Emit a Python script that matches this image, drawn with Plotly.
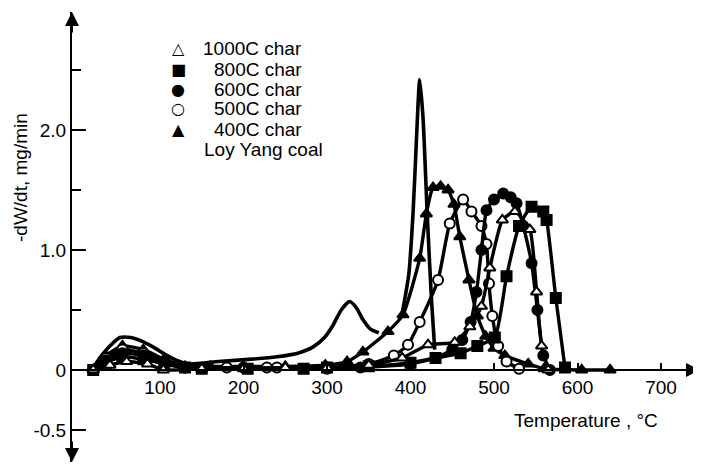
import plotly.graph_objects as go

# ---------------- data ----------------
coal_T = [20, 30, 40, 52, 65, 78, 92, 106, 120, 135, 170, 210, 240, 265, 283, 297, 307, 317, 327, 335, 343, 352, 362,
          None, 390, 398, 403, 407, 411, 415, 420, 425, 429]
coal_y = [0.02, 0.12, 0.20, 0.27, 0.27, 0.24, 0.19, 0.13, 0.08, 0.05, 0.07, 0.09, 0.11, 0.14, 0.19, 0.27, 0.37, 0.50, 0.57,
          0.52, 0.42, 0.34, 0.31, None, 0.47, 0.80, 1.30, 1.90, 2.42, 2.10, 1.30, 0.60, 0.17]

c400_T = [20, 35, 55, 80, 105, 130, 160, 200, 250, 298, 324, 343, 373, 391, 411, 419, 427, 436, 445, 452, 459, 470, 480,
          490, 500, 513, 541, 560, 605, 639]
c400_y = [0.0, 0.12, 0.20, 0.17, 0.09, 0.03, 0.03, 0.03, 0.03, 0.04, 0.07, 0.15, 0.32, 0.46, 0.93, 1.30, 1.52, 1.53,
          1.50, 1.38, 1.11, 0.75, 0.45, 0.28, 0.18, 0.12, 0.05, 0.01, 0.0, 0.0]

c500_T = [20, 35, 55, 80, 105, 130, 180, 228, 240, 300, 350, 380, 397, 411, 433, 447, 463, 473, 485, 491, 494, 498, 505,
          515, 530]
c500_y = [0.0, 0.10, 0.17, 0.14, 0.07, 0.02, 0.02, 0.02, 0.02, 0.02, 0.05, 0.12, 0.21, 0.40, 0.75, 1.22, 1.42, 1.32,
          1.20, 1.05, 0.72, 0.45, 0.20, 0.07, 0.01]

c600_T = [20, 35, 55, 80, 105, 130, 200, 300, 340, 400, 430, 450, 462, 472, 479, 485, 491, 500, 511, 520, 527, 535, 545,
          552, 559, 567]
c600_y = [0.0, 0.08, 0.14, 0.12, 0.06, 0.02, 0.02, 0.01, 0.02, 0.05, 0.10, 0.17, 0.25, 0.40, 0.65, 1.00, 1.33, 1.42,
          1.47, 1.44, 1.39, 1.20, 0.89, 0.50, 0.12, 0.0]

c800_T = [20, 35, 55, 80, 105, 130, 150, 205, 272, 300, 350, 400, 430, 460, 480, 501, 515, 530, 545, 559, 563, 574, 585]
c800_y = [0.0, 0.06, 0.11, 0.09, 0.05, 0.02, 0.01, 0.01, 0.01, 0.02, 0.03, 0.06, 0.10, 0.14, 0.20, 0.27, 0.78, 1.20,
          1.36, 1.32, 1.25, 0.60, 0.02]

c1000_T = [20, 40, 60, 85, 104, 150, 200, 250, 300, 350, 390, 421, 453, 471, 485, 495, 510, 525, 543, 551, 557, 565]
c1000_y = [0.0, 0.04, 0.07, 0.05, 0.0, 0.01, 0.01, 0.02, 0.02, 0.04, 0.10, 0.21, 0.23, 0.36, 0.53, 0.85, 1.25, 1.32,
           1.17, 0.65, 0.20, 0.0]

legend_names = ["1000C char", "800C char", "600C char", "500C char", "400C char", "Loy Yang coal"]
legend_glyphs = ["\u25B3", "\u25A0", "\u25CF", "\u25CB", "\u25B2", ""]

x_ticks = [100, 200, 300, 400, 500, 600, 700]
y_ticks = [-0.5, 0, 1.0, 2.0]
y_tick_text = ["-0.5", "0", "1.0", "2.0"]
y_minor = [0.5, 1.5, 2.5]

# ---------------- figure ----------------
OFF = 8                       # page body margin offset
W, H = 701 - OFF, 470 - OFF
ML, MR, MT, MB = 72 - OFF, 1, 12 - OFF, 8
XMIN, XMAX = -5.4, 746.7
YMIN, YMAX = -0.767, 2.983
FONT = "Liberation Sans"
FS = 19

def px2paper(px, py):
    # px, py are absolute window pixels
    px -= OFF
    py -= OFF
    return (px - ML) / (W - ML - MR), 1 - (py - MT) / (H - MT - MB)

fig = go.Figure()

fig.add_trace(go.Scatter(x=coal_T, y=coal_y, mode="lines", name=legend_names[5],
                         line=dict(color="black", width=3.6, shape="spline", smoothing=0.6),
                         connectgaps=False))

series = [
    (c400_T, c400_y, legend_names[4], "triangle-up", "black"),
    (c500_T, c500_y, legend_names[3], "circle", "white"),
    (c600_T, c600_y, legend_names[2], "circle", "black"),
    (c800_T, c800_y, legend_names[1], "square", "black"),
    (c1000_T, c1000_y, legend_names[0], "triangle-up", "white"),
]
for T, y, name, sym, fill in series:
    fig.add_trace(go.Scatter(
        x=T, y=y, mode="lines+markers", name=name,
        line=dict(color="black", width=3.4, shape="spline", smoothing=0.5),
        marker=dict(symbol=sym, size=10, color=fill, line=dict(color="black", width=2)),
    ))

y0_paper = (0 - YMIN) / (YMAX - YMIN)

fig.update_layout(
    width=W, height=H,
    margin=dict(l=ML, r=MR, t=MT, b=MB, autoexpand=False),
    paper_bgcolor="white", plot_bgcolor="white",
    showlegend=False,
    font=dict(family=FONT, color="black", size=FS),
    xaxis=dict(range=[XMIN, XMAX], anchor="free", position=y0_paper,
               showline=True, linecolor="black", linewidth=2,
               tickvals=x_ticks, ticktext=[str(v) for v in x_ticks],
               ticks="inside", ticklen=6, tickwidth=1.5, tickcolor="black",
               showgrid=False, zeroline=False, tickfont=dict(size=FS)),
    yaxis=dict(range=[YMIN, YMAX], showline=True, linecolor="black", linewidth=2,
               tickvals=y_ticks, ticktext=y_tick_text,
               ticks="inside", ticklen=14, tickwidth=2, tickcolor="black",
               minor=dict(tickvals=y_minor, ticks="inside", ticklen=9, tickwidth=2, tickcolor="black"),
               showgrid=False, zeroline=False, tickfont=dict(size=FS)),
)

ann = []
# arrow heads on the axes
ann.append(dict(x=XMIN, y=YMAX, xref="x", yref="y", ax=0, ay=22, showarrow=True,
                arrowhead=2, arrowsize=1.4, arrowwidth=2, arrowcolor="black", text=""))
ann.append(dict(x=XMIN, y=YMIN, xref="x", yref="y", ax=0, ay=-22, showarrow=True,
                arrowhead=2, arrowsize=1.4, arrowwidth=2, arrowcolor="black", text=""))
ann.append(dict(x=XMAX, y=0, xref="x", yref="y", ax=-22, ay=0, showarrow=True,
                arrowhead=2, arrowsize=1.4, arrowwidth=2, arrowcolor="black", text=""))

# axis titles
px_, py_ = px2paper(660, 420)
ann.append(dict(x=px_, y=py_, xref="paper", yref="paper", xanchor="right", yanchor="middle",
                text="Temperature , \u00b0C", showarrow=False, font=dict(size=FS)))
px_, py_ = px2paper(21, 178)
ann.append(dict(x=px_, y=py_, xref="paper", yref="paper", xanchor="center", yanchor="middle",
                text="-dW/dt, mg/min", textangle=-90, showarrow=False, font=dict(size=FS)))

# legend block
for i, (name, g) in enumerate(zip(legend_names, legend_glyphs)):
    row_y = 49 + 20 * i
    if g:
        gx, gy = px2paper(178, row_y)
        ann.append(dict(x=gx, y=gy, xref="paper", yref="paper", xanchor="center", yanchor="middle",
                        text=g, showarrow=False, font=dict(size=16, family="DejaVu Sans")))
        tx, ty = px2paper(304, row_y)
        ann.append(dict(x=tx, y=ty, xref="paper", yref="paper", xanchor="right", yanchor="middle",
                        text=name, showarrow=False, font=dict(size=FS)))
    else:
        tx, ty = px2paper(202, row_y)
        ann.append(dict(x=tx, y=ty, xref="paper", yref="paper", xanchor="left", yanchor="middle",
                        text=name, showarrow=False, font=dict(size=FS)))

fig.update_layout(annotations=ann)
fig.write_html("out.html")
